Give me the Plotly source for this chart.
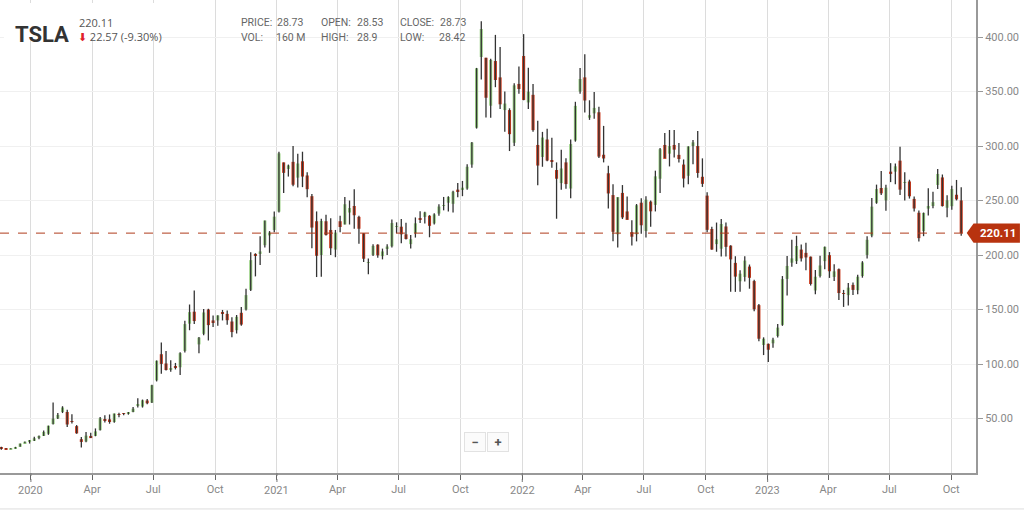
import plotly.graph_objects as go
import pandas as pd

# weekly TSLA candles (split adjusted), week starting 2019-11-18
opens = [
    23.3, 22.3, 22.0, 22.4, 24.0, 27.5, 28.7,
    # 2020
    29.5, 32.0, 34.0, 36.0,
    44.9, 50.0, 56.0, 56.0,
    47.5, 43.0, 31.0, 28.9, 34.0,
    34.0, 39.3, 48.5, 49.2,
    46.8, 54.0, 54.5, 55.0,
    56.0, 62.0, 61.0, 66.5, 64.6,
    85.0, 109.0, 100.5, 95.4,
    96.9, 97.0, 112.0, 137.0, 148.0,
    118.0, 127.7, 150.0, 140.0,
    140.0, 147.0, 146.0, 139.0,
    131.0, 147.0, 150.0, 168.0, 201.0,
    201.0, 209.0, 218.0, 223.0,
    # 2021
    239.8, 285.0, 279.0, 285.5,
    271.0, 286.0, 273.0, 254.0,
    231.0, 200.0, 231.0, 223.0, 205.0,
    231.0, 228.0, 239.0, 245.0,
    235.0, 220.0, 193.0, 200.0, 209.5,
    199.0, 206.0, 208.0, 226.0,
    226.0, 219.0, 210.0, 220.0,
    233.3, 235.0, 236.0, 229.0, 238.0,
    245.0, 248.0, 247.0, 260.0,
    260.0, 261.0, 283.0, 316.8,
    381.7, 381.0, 337.0, 378.0, 363.0,
    333.0, 333.0, 303.0, 357.0,
    # 2022
    382.6, 340.0, 347.0, 301.0, 290.0,
    306.0, 287.0, 278.0, 266.0,
    285.0, 261.0, 305.0, 350.0,
    363.0, 326.0, 330.0, 331.0,
    292.0, 275.0, 255.0, 219.0, 257.0,
    240.0, 221.0, 219.0, 248.0,
    222.0, 249.0, 246.0, 270.0,
    301.0, 293.0, 301.0, 291.9, 283.0,
    272.7, 300.0, 300.0, 271.8,
    254.5, 223.9, 210.0, 205.8, 226.2,
    208.6, 192.8, 175.9, 179.9,
    189.4, 176.1, 154.0, 117.5,
    # 2023
    118.5, 119.0, 125.7, 135.9, 178.1,
    193.0, 194.4, 205.0, 202.0,
    198.5, 167.5, 180.8, 194.4,
    199.9, 179.9, 187.0, 164.7,
    163.2, 172.6, 167.7, 180.7, 200.1,
    217.8, 247.9, 261.5, 250.1,
    276.5, 276.5, 286.6, 266.3, 267.5,
    251.5, 238.8, 222.0, 242.6,
    245.0, 264.3, 271.2, 243.4,
    244.8, 255.3, 250.1,
]
highs = [
    24.1, 22.8, 22.7, 24.0, 27.1, 29.0, 30.3,
    # 2020
    33.3, 34.3, 39.0, 43.5,
    64.6, 55.0, 61.3, 58.0,
    53.8, 44.0, 33.0, 37.7, 37.0,
    40.9, 51.4, 53.0, 53.7,
    54.6, 55.2, 55.0, 56.0,
    60.5, 68.5, 67.4, 67.8, 80.9,
    103.3, 119.7, 112.0, 103.4,
    101.0, 110.7, 139.7, 154.6, 167.5,
    124.9, 150.4, 150.7, 144.6,
    144.8, 149.6, 149.0, 143.0,
    145.0, 152.3, 169.1, 202.6, 201.6,
    217.2, 231.7, 222.0, 240.0,
    # 2021
    294.8, 285.0, 283.0, 300.1,
    293.0, 294.8, 276.0, 256.0,
    240.0, 233.3, 237.0, 233.8, 223.0,
    236.0, 253.3, 250.0, 260.3,
    236.0, 220.0, 196.7, 210.0, 210.0,
    205.9, 210.0, 232.6, 230.0,
    233.0, 229.6, 218.3, 234.5,
    240.2, 239.6, 236.6, 238.3, 246.6,
    253.3, 254.0, 259.0, 266.0,
    268.0, 283.3, 303.8, 371.7,
    414.5, 381.0, 380.0, 402.0, 390.9,
    350.0, 334.6, 357.7, 373.0,
    # 2022
    402.7, 371.9, 356.9, 323.3, 313.0,
    315.9, 307.7, 285.0, 296.6,
    288.7, 306.0, 340.6, 371.6,
    384.3, 342.0, 349.7, 336.0,
    318.5, 281.9, 265.0, 253.0, 264.2,
    253.6, 231.8, 246.8, 252.1,
    254.0, 250.0, 277.4, 298.3,
    311.9, 314.7, 314.7, 302.9, 287.7,
    299.9, 305.5, 313.8, 288.7,
    257.5, 226.0, 229.8, 233.0, 229.9,
    208.9, 198.9, 186.0, 198.9,
    191.3, 177.4, 155.0, 124.5,
    # 2023
    118.8, 124.0, 136.7, 180.7, 199.0,
    214.0, 217.7, 209.7, 211.2,
    198.6, 186.2, 199.3, 207.8,
    202.7, 191.6, 187.7, 168.0,
    174.4, 174.9, 181.9, 194.4, 217.3,
    252.4, 264.6, 277.0, 264.5,
    284.3, 284.0, 299.3, 276.0, 269.1,
    253.7, 240.9, 239.0, 261.2,
    258.0, 279.0, 273.9, 254.8,
    263.6, 268.9, 262.3,
]
lows = [
    21.3, 21.7, 21.8, 22.3, 24.0, 27.4, 27.0,
    # 2020
    29.3, 31.0, 34.0, 35.0,
    44.5, 49.6, 55.0, 42.3,
    45.5, 36.0, 23.4, 28.2, 32.0,
    33.7, 39.0, 46.3, 45.2,
    46.0, 51.2, 53.0, 53.5,
    55.8, 60.0, 60.0, 63.0, 64.2,
    84.0, 91.0, 94.0, 93.0,
    95.0, 90.0, 110.5, 131.0, 136.6,
    109.9, 126.5, 121.6, 134.0,
    135.0, 140.0, 136.0, 124.5,
    128.0, 135.0, 149.0, 167.0, 180.4,
    190.9, 207.0, 202.0, 221.0,
    # 2021
    239.1, 257.0, 272.0, 263.0,
    262.0, 262.3, 253.0, 206.3,
    179.8, 180.0, 218.0, 200.0, 198.0,
    221.0, 228.0, 228.0, 224.0,
    210.3, 193.7, 182.3, 199.0, 197.4,
    196.0, 200.0, 207.0, 220.0,
    210.9, 214.2, 206.0, 216.0,
    229.3, 229.0, 216.3, 228.0, 236.0,
    241.0, 240.0, 239.0, 253.0,
    254.0, 260.0, 280.0, 316.0,
    361.0, 326.2, 326.0, 354.0, 334.0,
    313.0, 295.4, 300.0, 348.0,
    # 2022
    342.0, 334.0, 313.0, 264.0, 281.0,
    286.0, 280.0, 233.3, 260.0,
    260.7, 252.0, 304.0, 348.0,
    330.8, 324.0, 325.0, 289.0,
    285.0, 242.7, 212.7, 206.9, 233.0,
    232.7, 208.7, 212.5, 219.6,
    216.0, 226.0, 240.0, 257.0,
    289.0, 281.3, 289.5, 285.0, 262.0,
    265.0, 283.4, 271.0, 262.5,
    221.0, 204.9, 203.0, 198.6, 198.6,
    166.2, 166.2, 166.2, 175.6,
    169.1, 148.3, 121.0, 108.2,
    # 2023
    101.8, 114.9, 124.3, 135.0, 162.8,
    189.2, 191.8, 194.1, 186.0,
    172.0, 163.9, 179.4, 187.0,
    179.0, 176.1, 158.8, 152.4,
    153.7, 163.4, 164.0, 179.2, 196.9,
    216.2, 247.0, 255.0, 240.6,
    266.9, 264.9, 255.0, 250.0, 251.8,
    240.0, 212.4, 217.3, 236.2,
    243.0, 260.6, 244.5, 234.6,
    241.6, 250.1, 217.8,
]
closes = [
    22.2, 22.0, 22.4, 23.9, 27.0, 28.7, 29.5,
    # 2020
    31.9, 34.0, 37.7, 43.4,
    49.9, 53.3, 60.1, 44.5,
    46.9, 36.4, 28.5, 34.3, 32.0,
    38.2, 50.3, 48.3, 46.8,
    54.6, 53.4, 54.4, 55.7,
    59.0, 62.4, 66.7, 64.0, 80.6,
    103.0, 100.1, 94.5, 95.4,
    96.8, 110.0, 136.6, 147.6, 139.4,
    124.2, 147.3, 135.7, 138.4,
    144.6, 146.6, 140.2, 129.3,
    143.3, 136.2, 163.2, 195.3, 199.7,
    203.3, 231.7, 220.6, 235.2,
    # 2021
    293.3, 275.4, 282.2, 264.5,
    284.0, 272.0, 260.4, 225.2,
    199.3, 231.2, 218.3, 206.2, 220.6,
    225.7, 246.6, 243.1, 236.5,
    224.1, 196.6, 193.6, 208.4, 199.7,
    203.3, 207.8, 229.3, 226.3,
    219.0, 214.7, 214.5, 229.1,
    233.0, 239.1, 226.8, 237.3, 244.5,
    245.4, 253.2, 258.1, 258.4,
    261.8, 281.0, 303.2, 371.3,
    407.4, 344.3, 379.0, 360.6, 338.3,
    339.0, 310.9, 355.7, 352.3,
    # 2022
    342.3, 349.9, 314.6, 282.1, 307.8,
    286.7, 285.7, 270.0, 279.4,
    265.1, 301.8, 336.9, 361.5,
    341.8, 328.3, 335.0, 290.3,
    288.6, 256.5, 221.3, 253.2, 234.5,
    232.2, 216.8, 245.7, 227.3,
    250.8, 240.1, 272.2, 297.1,
    288.2, 300.0, 296.7, 288.1, 270.2,
    299.7, 303.4, 275.3, 265.3,
    223.1, 205.0, 214.4, 228.5, 207.5,
    196.0, 180.2, 182.9, 194.9,
    179.1, 150.2, 123.2, 123.2,
    # 2023
    113.1, 122.4, 133.4, 177.9, 190.0,
    196.9, 208.3, 196.9, 197.8,
    173.4, 180.1, 190.4, 207.5,
    185.1, 185.0, 165.1, 164.3,
    170.1, 168.0, 180.1, 193.2, 214.0,
    244.4, 260.5, 256.6, 261.8,
    274.4, 281.4, 260.0, 266.4, 253.9,
    242.7, 215.5, 238.6, 245.0,
    248.5, 274.4, 244.9, 250.2,
    260.5, 251.1, 220.11,
]
dates = pd.date_range("2019-11-18", periods=len(closes), freq="W-MON")

quarter_ticks = pd.date_range("2020-01-01", "2023-10-01", freq="QS")
quarter_text = ["" if d.month == 1 else d.strftime("%b") for d in quarter_ticks]
year_ticks = [d for d in quarter_ticks if d.month == 1]
price_ticks = [50, 100, 150, 200, 250, 300, 350, 400]

last_price = closes[-1]
FONT = "Roboto, sans-serif"
GREY = "#888888"
UP = "#9ad184"
DOWN = "#c9381b"
DAY_MS = 86400000

fig = go.Figure()

# candle bodies
body_base = [min(o, c) for o, c in zip(opens, closes)]
body_size = [max(abs(c - o), 0.6) for o, c in zip(opens, closes)]
body_color = [UP if c >= o else DOWN for o, c in zip(opens, closes)]
fig.add_trace(go.Bar(
    x=dates, y=body_size, base=body_base, width=4.6 * DAY_MS,
    marker=dict(color=body_color, line=dict(width=0)),
    hoverinfo="skip", showlegend=False,
))

# wicks
wick_x, wick_y = [], []
for d, lo, hi in zip(dates, lows, highs):
    wick_x += [d, d, None]
    wick_y += [lo, hi, None]
fig.add_trace(go.Scatter(
    x=wick_x, y=wick_y, mode="lines",
    line=dict(color="#333333", width=1.3),
    hoverinfo="skip", showlegend=False,
))

shapes = []
# white box behind the ticker title
shapes.append(dict(type="rect", xref="paper", yref="paper", x0=0.004, x1=0.163,
                   y0=1 - 38 / 473, y1=1 - 3 / 473, fillcolor="white",
                   line=dict(width=0), layer="above"))
# last price dashed line
shapes.append(dict(type="line", xref="paper", yref="y", x0=0, x1=1,
                   y0=last_price, y1=last_price,
                   line=dict(color="#b03c1c", width=1, dash="dash"), layer="above"))
# price tag
shapes.append(dict(type="path", xref="paper", yref="y",
                   path=f"M 0.9905,{last_price} L 0.9975,{last_price + 8.8} "
                        f"L 1.045,{last_price + 8.8} L 1.045,{last_price - 8.8} "
                        f"L 0.9975,{last_price - 8.8} Z",
                   fillcolor="#b8330f", line=dict(width=0), layer="above"))
# dotted year ticks
for d in year_ticks:
    shapes.append(dict(type="line", xref="x", yref="paper", x0=d, x1=d,
                       y0=0, y1=-0.022, line=dict(color="#777", width=1, dash="dot")))
# bottom border
shapes.append(dict(type="line", xref="paper", yref="paper", x0=0, x1=1.05,
                   y0=-0.076, y1=-0.076, line=dict(color="#dddddd", width=1)))

annotations = []
for d in year_ticks:
    annotations.append(dict(x=d, y=-0.056, xref="x", yref="paper", text=str(d.year),
                            showarrow=False, font=dict(family=FONT, size=11, color=GREY)))

annotations.append(dict(x=0.013, y=1 - 20 / 473, xref="paper", yref="paper",
                        text="<b>TSLA</b>", showarrow=False, xanchor="left",
                        font=dict(family=FONT, size=22, color="#333333")))
annotations.append(dict(x=0.079, y=1 - 13 / 473, xref="paper", yref="paper",
                        text="220.11", showarrow=False, xanchor="left",
                        font=dict(family="Open Sans, sans-serif", size=11, color="#555")))
annotations.append(dict(x=0.078, y=1 - 27 / 473, xref="paper", yref="paper",
                        text="<span style='color:#e0202a'>⬇</span> 22.57 (-9.30%)",
                        showarrow=False, xanchor="left",
                        font=dict(family="Open Sans, sans-serif", size=11, color="#555")))

stat_labels = ["PRICE:", "VOL:", "OPEN:", "HIGH:", "CLOSE:", "LOW:"]
stat_values = ["28.73", "160 M", "28.53", "28.9", "28.73", "28.42"]
label_x = [239, 239, 319, 319, 398, 398]
value_x = [275, 274, 355, 355, 438, 437]
for i, (lab, val) in enumerate(zip(stat_labels, stat_values)):
    yy = 1 - (14 if i % 2 == 0 else 29) / 473
    annotations.append(dict(x=label_x[i] / 976, y=yy, xref="paper", yref="paper",
                            text=lab, showarrow=False, xanchor="left",
                            font=dict(family=FONT, size=10.5, color="#666")))
    annotations.append(dict(x=value_x[i] / 976, y=yy, xref="paper", yref="paper",
                            text=val, showarrow=False, xanchor="left",
                            font=dict(family=FONT, size=10.5, color="#666")))

# price tag text
annotations.append(dict(x=1.043, y=last_price, xref="paper", yref="y",
                        text=f"<b>{last_price:.2f}</b>", showarrow=False, xanchor="right",
                        font=dict(family=FONT, size=11.5, color="white")))

# zoom buttons
for xb, sym in [(475, "−"), (498, "+")]:
    annotations.append(dict(x=xb / 976, y=1 - 452 / 473, xref="paper", yref="paper",
                            text=f"<b>{sym}</b>", showarrow=False, width=16, height=14,
                            bgcolor="#fbfbfb", bordercolor="#e2e2e2", borderwidth=1, borderpad=2,
                            font=dict(family=FONT, size=13, color="#555")))

fig.update_layout(
    width=1024, height=510,
    margin=dict(l=0, r=48, t=0, b=37),
    paper_bgcolor="white", plot_bgcolor="white",
    showlegend=False, barmode="overlay",
    shapes=shapes, annotations=annotations,
    xaxis=dict(
        type="date", range=["2019-11-16", "2023-11-07"],
        tickvals=quarter_ticks, ticktext=quarter_text,
        showgrid=True, gridcolor="#dcdcdc", gridwidth=1,
        ticks="outside", ticklen=5, tickcolor="#666",
        showline=True, linecolor="#999999", linewidth=2,
        zeroline=False,
        tickfont=dict(family=FONT, size=11, color=GREY),
    ),
    yaxis=dict(
        side="right", range=[0, 434],
        tickvals=price_ticks, tickformat=".2f",
        showgrid=True, gridcolor="#f0f0f0", gridwidth=1,
        ticks="outside", ticklen=5, tickcolor="#999",
        showline=True, linecolor="#999999", linewidth=2,
        zeroline=False,
        tickfont=dict(family=FONT, size=11, color=GREY),
    ),
)

fig.write_html("out.html", config={"displayModeBar": False},
               post_script="document.body.style.margin='0';")
